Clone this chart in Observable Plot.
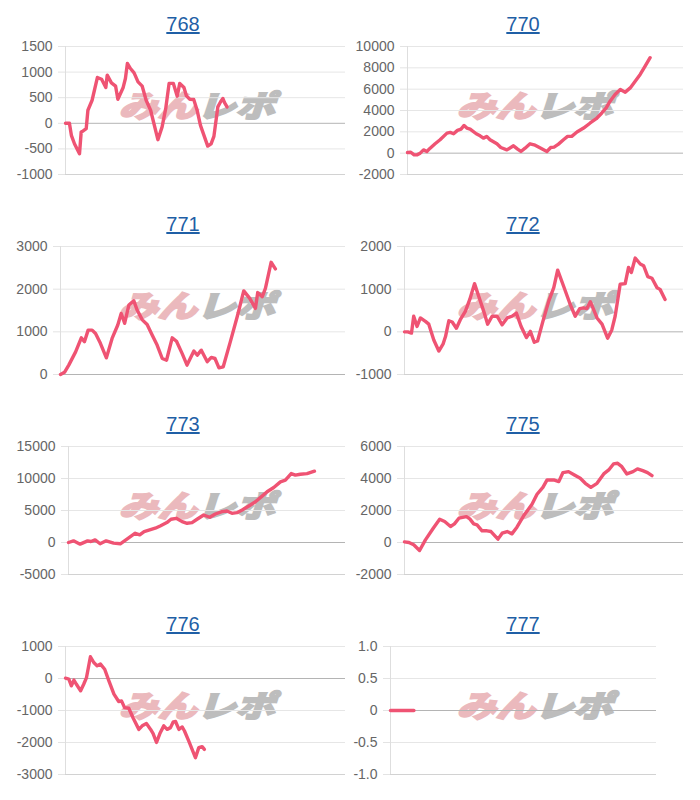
<!DOCTYPE html>
<html><head><meta charset="utf-8">
<script src="https://cdn.jsdelivr.net/npm/d3@7"></script>
<script src="https://cdn.jsdelivr.net/npm/@observablehq/plot@0.6"></script>
<style>
body{margin:0;background:#fff;font-family:"Liberation Sans",Arial,sans-serif}
#grid{position:relative;width:700px;height:800px;overflow:hidden}
.cell{position:absolute;width:350px;height:200px}
.title{position:absolute;top:12px;text-align:center;font-size:20px;line-height:24px}
.title a{color:#1f5fa6;text-decoration:underline}
.wm{position:absolute;top:104px;width:0;height:0}
.wm span.in{position:absolute;left:0;top:0;transform:translate(-50%,-50%) scaleX(1.3) skewX(-14deg);white-space:nowrap;font-family:"Noto Sans CJK JP",sans-serif;font-weight:700;font-size:30px;line-height:30px;letter-spacing:0px}
.wm .p{color:#ebb9bd;-webkit-text-stroke:2.5px #ebb9bd}
.wm .g{color:#bdbdbd;-webkit-text-stroke:2.5px #bdbdbd}
.cell svg{position:absolute;top:36px;left:0}
</style>
</head><body>
<div id="grid"></div>
<script>
// ---- data (x = game index on a 0–100 axis, y = balance) ----
const titles = ["768","770","771","772","773","775","776","777"];

const s768 = [[0,0],[1.4,0],[2.1,-235],[3.2,-400],[5.0,-595],[5.6,-170],[6.3,-150],[7.4,-105],[8.0,255],[9.5,450],[11.4,895],[12.9,860],[14.4,700],[14.9,940],[16.4,790],[17.9,725],[18.7,470],[20.6,700],[21.4,875],[22.1,1170],[23.2,1070],[24.5,985],[25.9,810],[27.4,725],[28.8,450],[30.4,255],[33.0,-320],[34.5,-70],[35.8,290],[37.0,780],[38.5,780],[39.9,530],[40.8,780],[42.3,700],[43.2,535],[44.4,470],[45.8,465],[47.0,255],[48.2,-40],[50.8,-445],[52.0,-400],[53.0,-255],[54.4,320],[55.4,420],[56.2,485],[56.8,405],[57.7,320]];

const s770 = [[0,60],[1.2,90],[2.4,-160],[3.4,-160],[4.6,0],[5.8,310],[7.0,160],[8.2,470],[10.0,880],[11.8,1260],[14.3,1880],[15.5,1950],[16.7,1820],[18.1,2135],[19.4,2260],[20.5,2600],[21.5,2355],[22.7,2260],[24.9,1820],[26.3,1630],[27.5,1410],[28.7,1570],[29.9,1260],[32.4,880],[33.8,530],[36.0,310],[38.4,690],[39.9,380],[41.1,160],[42.6,470],[44.4,880],[45.9,785],[47.8,530],[50.5,160],[51.9,530],[53.1,565],[54.7,850],[56.5,1260],[58.0,1570],[59.5,1570],[61.4,1980],[63.8,2355],[66.2,2830],[68.4,3230],[70.4,3770],[72.0,4240],[73.4,4870],[75.2,5500],[77.1,5970],[78.9,5720],[80.7,6120],[82.5,6750],[84.3,7380],[86.1,8160],[87.9,8950]];

const s771 = [[0,0],[1.4,50],[2.9,220],[5.3,530],[7.3,860],[8.4,770],[9.7,1040],[11.1,1040],[12.3,960],[14.0,730],[16.1,390],[18.1,845],[20.1,1160],[21.3,1430],[22.5,1200],[24.0,1630],[25.7,1730],[26.9,1510],[28.7,1280],[30.4,1170],[32.2,920],[33.9,690],[35.7,375],[37.2,335],[39.2,860],[40.7,780],[42.7,490],[44.4,220],[46.8,550],[48.0,455],[49.4,570],[51.5,300],[52.9,400],[54.2,375],[55.6,155],[57.1,180],[59.6,770],[62.0,1355],[64.3,1960],[66.4,1785],[68.4,1550],[69.2,1920],[70.8,1825],[71.9,2020],[73.9,2630],[75.4,2475]];

const s772 = [[0,0],[1.2,0],[2.5,-30],[3.3,365],[4.5,125],[5.7,325],[7.5,245],[8.7,180],[10.5,-190],[12.3,-450],[13.8,-290],[14.7,-110],[15.9,260],[17.1,230],[18.6,85],[20.0,285],[21.8,480],[23.4,760],[25.1,1130],[26.6,835],[28.4,480],[29.8,180],[31.4,365],[33.2,365],[35.0,165],[36.8,325],[38.5,365],[40.1,440],[41.8,125],[43.7,-135],[45.1,10],[46.5,-245],[47.7,-215],[49.6,245],[51.7,720],[53.5,1035],[54.9,1445],[57.0,1075],[59.4,640],[61.2,365],[62.8,545],[64.2,560],[65.4,545],[66.6,705],[67.8,520],[69.0,325],[70.8,180],[72.8,-150],[74.3,45],[75.5,365],[77.3,1115],[79.1,1130],[80.3,1510],[81.3,1390],[82.7,1730],[84.5,1590],[85.7,1550],[87.2,1295],[88.7,1255],[90.5,1035],[91.6,995],[93.4,760]];

const s773 = [[0,0],[1.8,260],[4.2,-260],[6.9,260],[8.1,155],[9.6,410],[11.4,-200],[13.6,260],[16.3,-100],[18.7,-200],[21.1,520],[24.1,1450],[25.7,1190],[27.3,1710],[29.3,1970],[31.3,2230],[33.1,2590],[35.5,3110],[37.0,3630],[38.9,3780],[41.0,3260],[42.8,3000],[44.6,3110],[46.4,3630],[48.8,4300],[51.0,3940],[53.0,4450],[55.4,4820],[57.2,4920],[59.0,4560],[60.8,4660],[62.7,5080],[65.1,5700],[67.5,6370],[69.9,7250],[71.7,7930],[74.1,8600],[76.5,9480],[78.3,9740],[80.4,10770],[81.9,10520],[83.7,10670],[86.1,10770],[88.8,11140]];

const s775 = [[0,40],[1.6,0],[3.3,-145],[5.4,-500],[7.5,165],[10.3,895],[12.6,1455],[14.4,1310],[16.5,1000],[17.9,1165],[19.5,1520],[22.2,1620],[23.4,1475],[24.8,1165],[26.0,1100],[27.8,730],[29.6,730],[31.0,685],[33.5,210],[35.0,580],[36.8,685],[38.5,540],[40.3,955],[42.7,1665],[45.7,2390],[47.5,3015],[49.6,3450],[51.1,3910],[53.5,3910],[55.3,3805],[56.8,4370],[58.8,4430],[60.9,4220],[63.0,4015],[64.8,3700],[66.8,3450],[69.0,3700],[71.4,4285],[73.2,4535],[74.9,4910],[76.4,4950],[77.9,4740],[79.7,4285],[81.9,4430],[83.5,4600],[85.4,4490],[87.1,4370],[88.7,4180]];

const s776 = [[0,10],[1.2,-20],[2.1,-230],[3.0,-50],[3.9,-180],[5.4,-385],[6.5,-180],[7.5,30],[8.9,680],[10.1,500],[11.3,395],[12.5,450],[14.0,290],[15.5,-75],[17.3,-490],[19.0,-720],[20.0,-700],[21.1,-910],[22.6,-930],[24.2,-1240],[26.2,-1590],[27.4,-1480],[28.9,-1410],[30.4,-1590],[31.3,-1720],[32.5,-2000],[33.7,-1720],[35.1,-1480],[36.3,-1590],[37.5,-1535],[38.5,-1355],[39.3,-1345],[40.5,-1590],[41.7,-1515],[42.5,-1640],[44.0,-1950],[46.4,-2475],[47.6,-2160],[48.8,-2130],[49.6,-2215]];

const s777 = [[0,0],[3,0],[6,0],[8.8,0]];

const series = [s768, s770, s771, s772, s773, s775, s776, s777];

const ticks768 = [-1000,-500,0,500,1000,1500];
const ticks770 = [-2000,0,2000,4000,6000,8000,10000];
const ticks771 = [0,1000,2000,3000];
const ticks772 = [-1000,0,1000,2000];
const ticks773 = [-5000,0,5000,10000,15000];
const ticks775 = [-2000,0,2000,4000,6000];
const ticks776 = [-3000,-2000,-1000,0,1000];
const ticks777 = [-1,-0.5,0,0.5,1];
const tickSets = [ticks768, ticks770, ticks771, ticks772, ticks773, ticks775, ticks776, ticks777];

// ---- layout ----
const marginsL = [65,57,60,54,68,54,65,40];
const marginsR = [5,17,5,17,5,17,5,44];
const lineColor = "#ef5373";

const grid = document.getElementById("grid");
series.forEach((data, i) => {
  const col = i % 2, row = Math.floor(i / 2);
  const cell = document.createElement("div");
  cell.className = "cell";
  cell.style.left = (col * 350) + "px";
  cell.style.top = (row * 200) + "px";
  grid.appendChild(cell);

  const t = document.createElement("div");
  t.className = "title";
  t.style.left = "0px";
  t.style.width = (col === 0 ? 366 : 346) + "px";
  t.innerHTML = `<a>${titles[i]}</a>`;
  cell.appendChild(t);

  const wm = document.createElement("div");
  wm.className = "wm";
  wm.style.left = (col === 0 ? 201 : 189) + "px";
  wm.innerHTML = `<span class="in"><span class="p">みん</span><span class="g">レポ</span></span>`;
  cell.appendChild(wm);

  const ticks = tickSets[i];
  const lo = d3.min(ticks), hi = d3.max(ticks);
  const fmt = i === 7 ? (d => d === 0 ? "0" : d.toFixed(1)) : (d => String(d));
  const plot = Plot.plot({
    width: 350, height: 164,
    marginTop: 10, marginBottom: 26,
    marginLeft: marginsL[i], marginRight: marginsR[i],
    style: {background: "transparent", fontFamily: '"Liberation Sans", Arial, sans-serif', fontSize: "14px", overflow: "visible"},
    x: {domain: [0, 100], axis: null},
    y: {domain: [lo, hi], axis: null},
    marks: [
      Plot.ruleY(ticks.filter(d => d !== 0 && d !== lo), {stroke: "#e6e6e6", strokeWidth: 1}),
      Plot.ruleY([lo].filter(d => d !== 0), {stroke: "#d2d2d2", strokeWidth: 1}),
      Plot.ruleX([0], {y1: lo, y2: hi, stroke: "#dedede", strokeWidth: 1}),
      Plot.axisY(ticks, {tickSize: 7, tickPadding: 6, stroke: "#e3e3e3", fill: "#666", tickFormat: fmt, fontSize: 14}),
      Plot.ruleY(ticks.filter(d => d === 0), {stroke: "#b4b4b4", strokeWidth: 1}),
      Plot.line(data, {x: d => d[0], y: d => d[1], stroke: lineColor, strokeWidth: 3.4, strokeLinejoin: "round"})
    ]
  });
  cell.appendChild(plot);
});
</script>
</body></html>
